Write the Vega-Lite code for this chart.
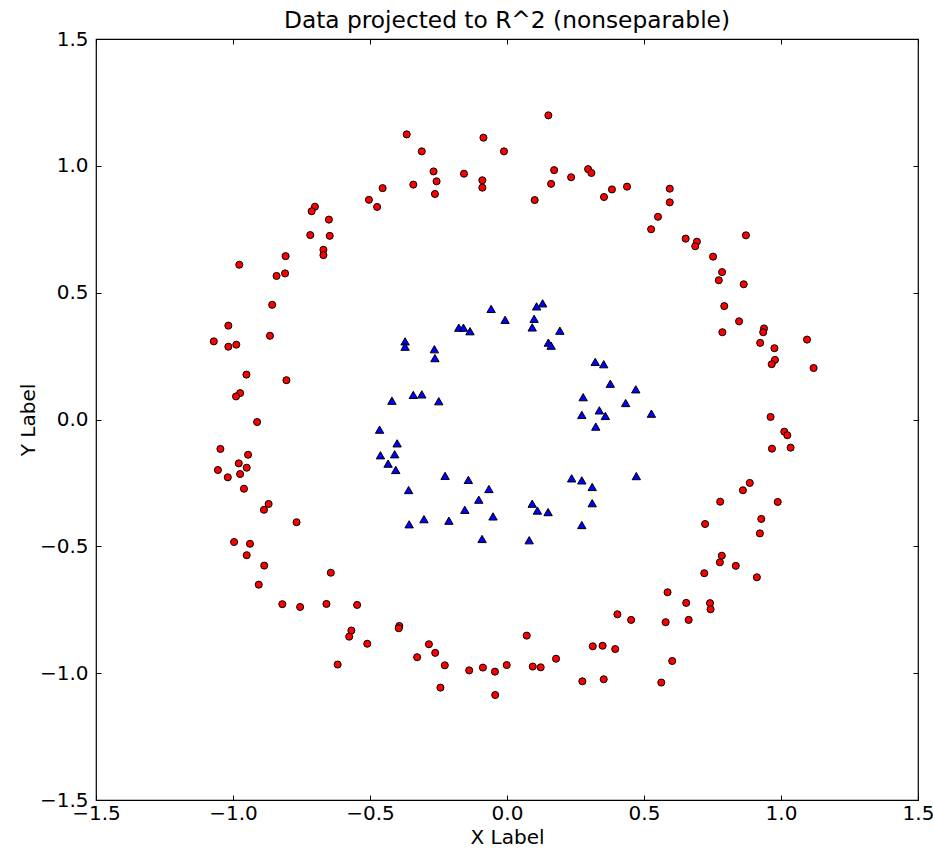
{
  "$schema": "https://vega.github.io/schema/vega-lite/v6.json",
  "width": 822,
  "height": 761,
  "autosize": {"type": "none"},
  "padding": {"left": 96, "top": 39, "right": 15, "bottom": 51},
  "background": "white",
  "title": {"text": "Data projected to R^2 (nonseparable)", "fontSize": 23.3, "font": "DejaVu Sans", "fontWeight": "normal", "color": "black", "offset": -4, "anchor": "middle"},
  "config": {
    "view": {"stroke": "black", "strokeWidth": 1.2},
    "axis": {"domain": false, "grid": false, "ticks": true, "tickSize": 5, "offset": -5, "tickColor": "black", "tickWidth": 1,
             "labelFont": "DejaVu Sans", "labelFontSize": 20, "labelColor": "black", "labelFlush": false, "labelOverlap": false,
             "titleFont": "DejaVu Sans", "titleFontSize": 20, "titleFontWeight": "normal", "titleColor": "black"}
  },
  "datasets": {
    "outer": [
      {"x": -0.366, "y": 1.124}, {"x": -0.311, "y": 1.057}, {"x": -0.086, "y": 1.111}, {"x": -0.011, "y": 1.057},
      {"x": -0.268, "y": 0.978}, {"x": -0.257, "y": 0.939}, {"x": -0.157, "y": 0.969}, {"x": -0.090, "y": 0.943},
      {"x": -0.090, "y": 0.914}, {"x": -0.342, "y": 0.926}, {"x": -0.263, "y": 0.889}, {"x": -0.454, "y": 0.912},
      {"x": -0.504, "y": 0.866}, {"x": -0.474, "y": 0.838}, {"x": -0.701, "y": 0.839}, {"x": -0.713, "y": 0.821},
      {"x": -0.650, "y": 0.788}, {"x": -0.718, "y": 0.727}, {"x": -0.647, "y": 0.724}, {"x": -0.670, "y": 0.669},
      {"x": -0.670, "y": 0.648}, {"x": -0.808, "y": 0.644}, {"x": -0.977, "y": 0.610}, {"x": -0.810, "y": 0.576},
      {"x": -0.841, "y": 0.566}, {"x": -0.857, "y": 0.452}, {"x": -1.017, "y": 0.370}, {"x": -0.865, "y": 0.330},
      {"x": -1.070, "y": 0.308}, {"x": -1.017, "y": 0.287}, {"x": -0.988, "y": 0.295},
      {"x": -0.951, "y": 0.177}, {"x": -0.805, "y": 0.155}, {"x": -0.974, "y": 0.104}, {"x": -0.989, "y": 0.091},
      {"x": -0.912, "y": -0.010}, {"x": -1.046, "y": -0.116}, {"x": -0.945, "y": -0.139}, {"x": -0.979, "y": -0.173},
      {"x": -0.950, "y": -0.190}, {"x": -1.055, "y": -0.199}, {"x": -1.019, "y": -0.228}, {"x": -0.974, "y": -0.215},
      {"x": -0.960, "y": -0.273}, {"x": -0.870, "y": -0.333}, {"x": -0.887, "y": -0.356}, {"x": -0.768, "y": -0.405},
      {"x": -0.996, "y": -0.483}, {"x": -0.938, "y": -0.490}, {"x": -0.950, "y": -0.535}, {"x": -0.886, "y": -0.576},
      {"x": -0.643, "y": -0.604},
      {"x": 0.151, "y": 1.199}, {"x": 0.172, "y": 0.983}, {"x": 0.161, "y": 0.929}, {"x": 0.234, "y": 0.955},
      {"x": 0.296, "y": 0.987}, {"x": 0.308, "y": 0.972}, {"x": 0.101, "y": 0.865}, {"x": 0.383, "y": 0.907},
      {"x": 0.354, "y": 0.877}, {"x": 0.438, "y": 0.918}, {"x": 0.594, "y": 0.910}, {"x": 0.594, "y": 0.856},
      {"x": 0.551, "y": 0.799}, {"x": 0.526, "y": 0.750}, {"x": 0.652, "y": 0.713}, {"x": 0.693, "y": 0.701},
      {"x": 0.687, "y": 0.683}, {"x": 0.872, "y": 0.726}, {"x": 0.752, "y": 0.642}, {"x": 0.785, "y": 0.581},
      {"x": 0.773, "y": 0.549}, {"x": 0.864, "y": 0.533}, {"x": 0.793, "y": 0.447}, {"x": 0.847, "y": 0.387},
      {"x": 0.786, "y": 0.344}, {"x": 0.938, "y": 0.359}, {"x": 0.935, "y": 0.344}, {"x": 0.924, "y": 0.302},
      {"x": 0.976, "y": 0.281}, {"x": 1.095, "y": 0.315},
      {"x": 0.978, "y": 0.235}, {"x": 0.966, "y": 0.218}, {"x": 1.119, "y": 0.203}, {"x": 0.962, "y": 0.010},
      {"x": 1.012, "y": -0.048}, {"x": 1.023, "y": -0.062}, {"x": 0.967, "y": -0.115}, {"x": 1.035, "y": -0.111},
      {"x": 0.886, "y": -0.250}, {"x": 0.861, "y": -0.279}, {"x": 0.778, "y": -0.324}, {"x": 0.988, "y": -0.325},
      {"x": 0.928, "y": -0.392}, {"x": 0.723, "y": -0.412}, {"x": 0.923, "y": -0.449}, {"x": 0.784, "y": -0.537},
      {"x": 0.777, "y": -0.563}, {"x": 0.835, "y": -0.577}, {"x": 0.720, "y": -0.606}, {"x": 0.912, "y": -0.622},
      {"x": -0.906, "y": -0.651}, {"x": -0.820, "y": -0.728}, {"x": -0.755, "y": -0.739}, {"x": -0.659, "y": -0.727},
      {"x": -0.547, "y": -0.731}, {"x": -0.568, "y": -0.832}, {"x": -0.576, "y": -0.856}, {"x": -0.510, "y": -0.884},
      {"x": -0.618, "y": -0.966}, {"x": -0.393, "y": -0.814}, {"x": -0.395, "y": -0.823}, {"x": -0.285, "y": -0.886},
      {"x": -0.262, "y": -0.920}, {"x": -0.328, "y": -0.937}, {"x": -0.227, "y": -0.969}, {"x": -0.243, "y": -1.057},
      {"x": -0.138, "y": -0.989}, {"x": -0.088, "y": -0.978}, {"x": -0.044, "y": -0.994}, {"x": -0.001, "y": -0.968},
      {"x": -0.043, "y": -1.086}, {"x": 0.072, "y": -0.852},
      {"x": 0.586, "y": -0.681}, {"x": 0.654, "y": -0.723}, {"x": 0.741, "y": -0.724}, {"x": 0.743, "y": -0.748},
      {"x": 0.403, "y": -0.768}, {"x": 0.453, "y": -0.790}, {"x": 0.579, "y": -0.799}, {"x": 0.663, "y": -0.790},
      {"x": 0.313, "y": -0.894}, {"x": 0.349, "y": -0.892}, {"x": 0.395, "y": -0.905}, {"x": 0.179, "y": -0.943},
      {"x": 0.094, "y": -0.974}, {"x": 0.123, "y": -0.977}, {"x": 0.603, "y": -0.952}, {"x": 0.275, "y": -1.032},
      {"x": 0.353, "y": -1.024}, {"x": 0.563, "y": -1.037}
    ],
    "inner": [
      {"x": -0.058, "y": 0.436}, {"x": -0.007, "y": 0.393}, {"x": -0.176, "y": 0.362}, {"x": -0.159, "y": 0.362},
      {"x": -0.135, "y": 0.348}, {"x": -0.372, "y": 0.308}, {"x": -0.372, "y": 0.287}, {"x": -0.265, "y": 0.277},
      {"x": -0.263, "y": 0.242},
      {"x": -0.420, "y": 0.074}, {"x": -0.342, "y": 0.097}, {"x": -0.311, "y": 0.099}, {"x": -0.249, "y": 0.072},
      {"x": -0.465, "y": -0.040}, {"x": -0.401, "y": -0.094}, {"x": -0.462, "y": -0.141}, {"x": -0.410, "y": -0.137},
      {"x": -0.434, "y": -0.174}, {"x": -0.406, "y": -0.199}, {"x": -0.226, "y": -0.222}, {"x": -0.141, "y": -0.238},
      {"x": -0.066, "y": -0.274}, {"x": -0.359, "y": -0.278}, {"x": -0.103, "y": -0.316}, {"x": -0.154, "y": -0.356},
      {"x": -0.051, "y": -0.382}, {"x": -0.357, "y": -0.413}, {"x": -0.303, "y": -0.393}, {"x": -0.212, "y": -0.399},
      {"x": -0.091, "y": -0.471},
      {"x": 0.108, "y": 0.446}, {"x": 0.130, "y": 0.458}, {"x": 0.099, "y": 0.397}, {"x": 0.092, "y": 0.363},
      {"x": 0.193, "y": 0.350}, {"x": 0.151, "y": 0.303}, {"x": 0.161, "y": 0.291},
      {"x": 0.322, "y": 0.227}, {"x": 0.353, "y": 0.218}, {"x": 0.377, "y": 0.141}, {"x": 0.470, "y": 0.119},
      {"x": 0.278, "y": 0.088}, {"x": 0.433, "y": 0.065}, {"x": 0.337, "y": 0.036}, {"x": 0.359, "y": 0.014},
      {"x": 0.273, "y": 0.018}, {"x": 0.527, "y": 0.023}, {"x": 0.324, "y": -0.028}, {"x": 0.472, "y": -0.223},
      {"x": 0.236, "y": -0.232}, {"x": 0.273, "y": -0.240}, {"x": 0.311, "y": -0.266}, {"x": 0.092, "y": -0.332},
      {"x": 0.111, "y": -0.359}, {"x": 0.150, "y": -0.365}, {"x": 0.311, "y": -0.330}, {"x": 0.273, "y": -0.416},
      {"x": 0.081, "y": -0.476}
    ]
  },
  "layer": [
    {
      "data": {"name": "outer"},
      "mark": {"type": "point", "shape": "circle", "filled": true, "fill": "#ff0000", "stroke": "black", "strokeWidth": 1, "size": 50, "opacity": 1},
      "encoding": {
        "x": {"field": "x", "type": "quantitative", "scale": {"domain": [-1.5, 1.5], "nice": false, "zero": false}, "axis": {"orient": "bottom", "title": "X Label", "values": [-1.5, -1.0, -0.5, 0.0, 0.5, 1.0, 1.5], "format": ".1f", "labelPadding": 3, "titlePadding": 4}},
        "y": {"field": "y", "type": "quantitative", "scale": {"domain": [-1.5, 1.5], "nice": false, "zero": false}, "axis": {"orient": "left", "title": "Y Label", "values": [-1.5, -1.0, -0.5, 0.0, 0.5, 1.0, 1.5], "format": ".1f", "labelPadding": 8, "titlePadding": 1}}
      }
    },
    {
      "data": {"name": "inner"},
      "mark": {"type": "point", "shape": "triangle-up", "filled": true, "fill": "#0000ff", "stroke": "black", "strokeWidth": 1, "size": 70, "opacity": 1},
      "encoding": {
        "x": {"field": "x", "type": "quantitative", "scale": {"domain": [-1.5, 1.5], "nice": false, "zero": false}, "axis": {"orient": "top", "title": null, "labels": false, "values": [-1.5, -1.0, -0.5, 0.0, 0.5, 1.0, 1.5]}},
        "y": {"field": "y", "type": "quantitative", "scale": {"domain": [-1.5, 1.5], "nice": false, "zero": false}, "axis": {"orient": "right", "title": null, "labels": false, "values": [-1.5, -1.0, -0.5, 0.0, 0.5, 1.0, 1.5]}}
      }
    }
  ],
  "resolve": {"axis": {"x": "independent", "y": "independent"}}
}
